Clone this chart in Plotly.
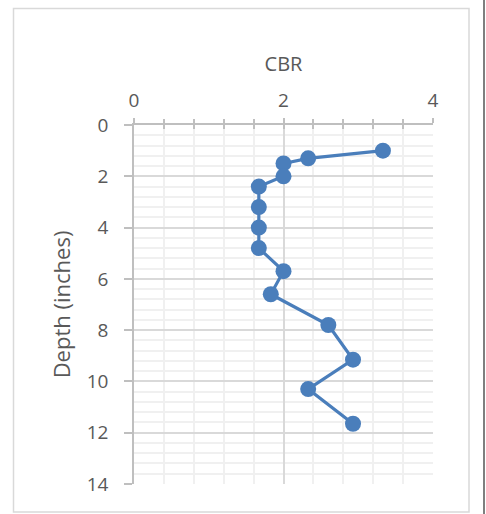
import plotly.graph_objects as go

cbr = [3.33, 2.33, 2.0, 2.0, 1.67, 1.67, 1.67, 1.67, 2.0, 1.83, 2.6, 2.93, 2.33, 2.93]
depth = [1.0, 1.3, 1.5, 2.0, 2.4, 3.2, 4.0, 4.8, 5.7, 6.6, 7.8, 9.15, 10.3, 11.65]
x_ticks = [0, 2, 4]
y_ticks = [0, 2, 4, 6, 8, 10, 12, 14]

W, H = 486, 514
ml, mr, mt, mb = 134, 53, 125, 30
blue = "#4a7ebb"
font = "Open Sans"

fig = go.Figure()
fig.add_trace(go.Scatter(
    x=cbr, y=depth, mode="lines+markers",
    line=dict(color=blue, width=3.2),
    marker=dict(color=blue, size=16),
    showlegend=False, xaxis="x", yaxis="y",
))
fig.add_trace(go.Scatter(x=[cbr[0]], y=[depth[0]], mode="markers",
                         marker=dict(opacity=0), showlegend=False,
                         hoverinfo="skip", xaxis="x2", yaxis="y"))

fig.update_layout(
    width=W, height=H,
    margin=dict(l=ml, r=mr, t=mt, b=mb),
    paper_bgcolor="white", plot_bgcolor="white",
    font=dict(family=font, color="#595959", size=19),
    xaxis=dict(
        side="top", range=[0, 4], tickvals=x_ticks, ticktext=[str(v) for v in x_ticks],
        showline=True, linecolor="#bfbfbf", linewidth=1.5,
        ticks="outside", ticklen=5, tickcolor="#bfbfbf", tickwidth=1.5,
        showgrid=True, gridcolor="#d9d9d9", gridwidth=1.5,
        minor=dict(dtick=0.4, showgrid=True, gridcolor="#f0f0f0", gridwidth=1.5,
                   ticks="outside", ticklen=4, tickcolor="#bfbfbf", tickwidth=1.5),
        title=dict(text="CBR", font=dict(size=20, color="#595959"), standoff=10),
        zeroline=False, ticklabelstandoff=4,
    ),
    xaxis2=dict(
        overlaying="x", side="top", range=[0, 4], matches="x",
        tickvals=x_ticks, showticklabels=False, showgrid=False,
        ticks="inside", ticklen=4, tickcolor="#bfbfbf", tickwidth=1.5,
        minor=dict(dtick=0.4, ticks="inside", ticklen=4, tickcolor="#bfbfbf",
                   tickwidth=1.5, showgrid=False),
        showline=False, zeroline=False,
    ),
    yaxis=dict(
        range=[14, 0], tickvals=y_ticks, ticktext=[str(v) for v in y_ticks],
        showline=True, linecolor="#bfbfbf", linewidth=1.5,
        ticks="outside", ticklen=8, tickcolor="#bfbfbf", tickwidth=1.5,
        showgrid=True, gridcolor="#d9d9d9", gridwidth=1.5,
        minor=dict(dtick=0.4, showgrid=True, gridcolor="#f0f0f0", gridwidth=1.5),
        title=dict(text="Depth (inches)", font=dict(size=22, color="#595959"), standoff=10),
        zeroline=False, ticklabelstandoff=12,
    ),
)

pw = W - ml - mr
ph = H - mt - mb
def px_x(p):
    return (p - ml) / pw
def px_y(p):
    return (H - mb - p) / ph
fig.add_shape(type="rect", xref="paper", yref="paper",
              x0=px_x(13.5), x1=px_x(469), y0=px_y(8.5), y1=px_y(512),
              line=dict(color="#d9d9d9", width=1.5), fillcolor="rgba(0,0,0,0)", layer="below")
fig.add_shape(type="line", xref="paper", yref="paper",
              x0=px_x(484), x1=px_x(484), y0=px_y(0), y1=px_y(514),
              line=dict(color="#7f7f7f", width=2))

fig.write_html(
    "out.html",
    config={"displayModeBar": False},
    post_script="document.body.style.margin='0';document.body.style.overflow='hidden';",
)
